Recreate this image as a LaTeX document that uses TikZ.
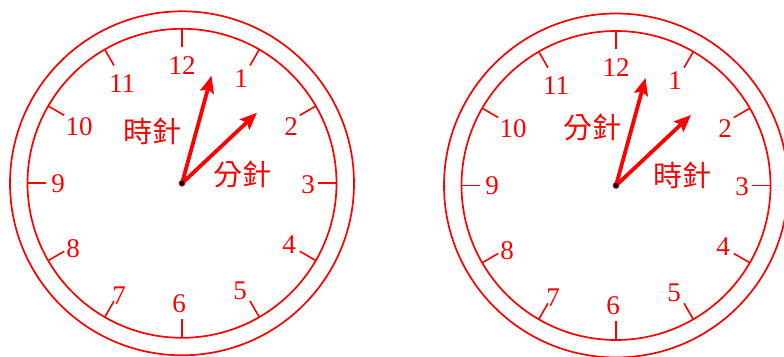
\documentclass[tikz,border=0pt]{standalone}
\usepackage{fontspec}
\setmainfont{Liberation Serif}
\newfontfamily\cjkfont{Noto Sans CJK TC}
\usetikzlibrary{arrows.meta}
\definecolor{clockred}{RGB}{255,0,0}
\tikzset{
  ring/.style={draw=clockred, line width=1.7pt},
  tickline/.style={draw=clockred, line width=1.6pt},
  numlabel/.style={text=clockred, font=\fontsize{27}{27}\selectfont, inner sep=0pt},
  handlabel/.style={text=clockred, font=\cjkfont\fontsize{29}{29}\selectfont, inner sep=0pt},
  hand/.style={draw=clockred, line width=3.8pt, -{Stealth[length=17pt,width=14pt,inset=3pt]}},
  hub/.style={circle, fill=black, draw=clockred, line width=0.6pt, minimum size=6pt, inner sep=0pt}
}
\newcommand{\clockface}[2]{%
  % #1 = prefix, center coordinate named #1c
  \draw[ring] (#1c) circle[radius=172pt];
  \draw[ring] (#1c) circle[radius=154.5pt];
  \foreach \h in {0,...,11}{
    \path (#1c) ++({90-30*\h}:136pt) coordinate (#1ti\h);
    \path (#1c) ++({90-30*\h}:154.5pt) coordinate (#1to\h);
    \draw[tickline] (#1ti\h) -- (#1to\h);
  }
  \node[numlabel] (#1n12) at ($(#1c)+(0pt,118pt)$) {12};
  \node[numlabel] (#1n1) at ($(#1c)+(59pt,105pt)$) {1};
  \node[numlabel] (#1n2) at ($(#1c)+(109pt,57pt)$) {2};
  \node[numlabel] (#1n3) at ($(#1c)+(126pt,-1pt)$) {3};
  \node[numlabel] (#1n4) at ($(#1c)+(107pt,-61pt)$) {4};
  \node[numlabel] (#1n5) at ($(#1c)+(58pt,-107pt)$) {5};
  \node[numlabel] (#1n6) at ($(#1c)+(-3pt,-120pt)$) {6};
  \node[numlabel] (#1n7) at ($(#1c)+(-63pt,-112pt)$) {7};
  \node[numlabel] (#1n8) at ($(#1c)+(-109pt,-65pt)$) {8};
  \node[numlabel] (#1n9) at ($(#1c)+(-124pt,0pt)$) {9};
  \node[numlabel] (#1n10) at ($(#1c)+(-103pt,57pt)$) {10};
  \node[numlabel] (#1n11) at ($(#1c)+(-60pt,100pt)$) {11};
  \coordinate (#1tipA) at ($(#1c)+(29.5pt,107.5pt)$);
  \coordinate (#1tipB) at ($(#1c)+(75pt,70.5pt)$);
  \draw[hand] (#1c) -- (#1tipA);
  \draw[hand] (#1c) -- (#1tipB);
  \node[hub] (#1hub) at (#1c) {};
}
\usetikzlibrary{calc}
\begin{document}
\begin{tikzpicture}[x=1pt,y=1pt]
  \useasboundingbox (0,0) rectangle (784,356);
  \clip (0,0) rectangle (784,356);
  % left clock (y measured from bottom: 356 - 183.3)
  \coordinate (Lc) at (182,172.7);
  \clockface{L}{}
  \node[handlabel] (Lhour) at (152,225) {時針};
  \node[handlabel] (Lmin) at (242,182) {分針};
  % right clock
  \coordinate (Rc) at (616,170.5);
  \clockface{R}{}
  \node[handlabel] (Rmin) at (592,229) {分針};
  \node[handlabel] (Rhour) at (682,181) {時針};
\end{tikzpicture}
\end{document}
